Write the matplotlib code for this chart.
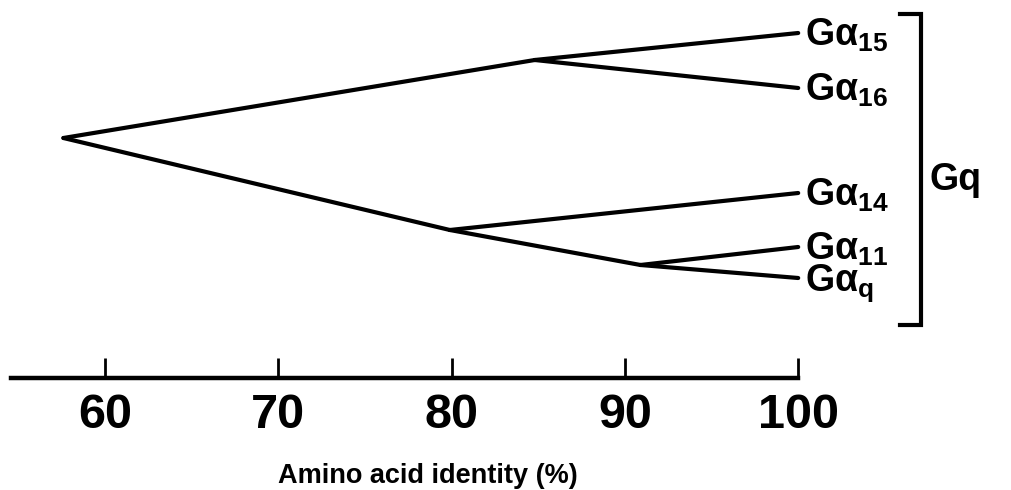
import matplotlib
matplotlib.use('Agg')
import matplotlib.pyplot as plt

plt.rcParams['font.family'] = ['Liberation Sans', 'DejaVu Sans']
plt.rcParams['mathtext.fontset'] = 'custom'
plt.rcParams['mathtext.rm'] = 'Liberation Sans'
plt.rcParams['mathtext.it'] = 'Liberation Sans'
plt.rcParams['mathtext.bf'] = 'Liberation Sans:bold'

# --- data ---
# leaves (all at 100 % identity) and their vertical order position
leaf_names = ["15", "16", "14", "11", "q"]
leaf_y = [33, 88, 193, 247, 278]
leaf_identity = 100

# internal nodes of the tree
node_names = ["root", "n15_16", "n14_11_q", "n11_q"]
node_identity = [57.6, 84.8, 79.9, 90.9]
node_y = [138, 60, 230, 265]

# branches (parent -> child)
edge_parent = ["root", "root", "n15_16", "n15_16", "n14_11_q", "n14_11_q", "n11_q", "n11_q"]
edge_child = ["n15_16", "n14_11_q", "15", "16", "14", "n11_q", "11", "q"]

tick_values = [60, 70, 80, 90, 100]
axis_start = 54.6
group_label = "Gq"
xlabel = "Amino acid identity (%)"

# --- layout: axes fill the figure, x in % identity, y in pixel rows ---
W, H = 1011, 490
px_per_unit = 17.33
x0 = 60 - 105 / px_per_unit

fig = plt.figure(figsize=(W / 100, H / 100), dpi=100)
ax = fig.add_axes([0, 0, 1, 1])
ax.set_xlim(x0, x0 + W / px_per_unit)
ax.set_ylim(H, 0)

pos = {}
for n, x, y in zip(node_names, node_identity, node_y):
    pos[n] = (x, y)
for n, y in zip(leaf_names, leaf_y):
    pos[n] = (leaf_identity, y)

for p, c in zip(edge_parent, edge_child):
    (xa, ya), (xb, yb) = pos[p], pos[c]
    ax.plot([xa, xb], [ya, yb], color='black', lw=3.0, solid_capstyle='round')

# leaf labels
for n, y in zip(leaf_names, leaf_y):
    label = "$\\mathbf{G\u03b1}_{\\mathbf{%s}}$" % n
    ax.annotate(label, xy=(leaf_identity, y), xytext=(7, -13),
                textcoords='offset pixels', ha='left', va='baseline', fontsize=27)

# bracket around the Gq group
bx = leaf_identity + 7.1
arm = 1.25
top = min(leaf_y) - 19
bot = max(leaf_y) + 47
ax.plot([bx - arm, bx, bx, bx - arm], [top, top, bot, bot], color='black', lw=3.0,
        solid_joinstyle='miter')
ax.text(bx + 0.5, 190, group_label, ha='left', va='baseline', fontsize=27,
        fontweight='bold')

# axis
for s in ['top', 'left', 'right']:
    ax.spines[s].set_visible(False)
ax.spines['bottom'].set_position(('data', 378))
ax.spines['bottom'].set_bounds(axis_start, tick_values[-1])
ax.spines['bottom'].set_linewidth(3.2)
ax.set_yticks([])
ax.set_xticks(tick_values)
ax.set_xticklabels([str(t) for t in tick_values], fontsize=35, fontweight='bold')
ax.tick_params(axis='x', direction='in', length=14.5, width=2, pad=11)

fig.text(428 / W, 7 / H, xlabel, ha='center', va='baseline', fontsize=19.5,
         fontweight='bold')

fig.savefig('out.png', dpi=100)
